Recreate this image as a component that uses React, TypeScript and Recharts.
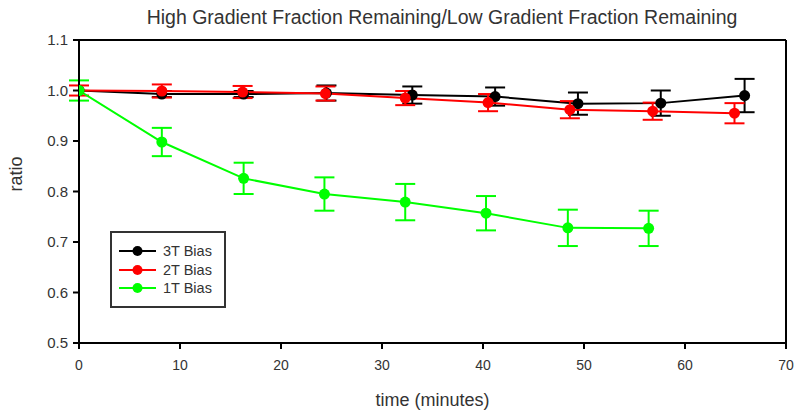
import React from 'react';
import {
  ComposedChart,
  Line,
  XAxis,
  YAxis,
  ErrorBar,
  ReferenceLine,
} from 'recharts';

// Sampling times (minutes) for each bias setting
const time3T = [0, 8.2, 16.3, 24.5, 33.0, 41.2, 49.4, 57.6, 65.9];
const time2T = [0, 8.2, 16.2, 24.4, 32.3, 40.5, 48.6, 56.8, 64.9];
const time1T = [0, 8.2, 16.3, 24.3, 32.3, 40.3, 48.4, 56.4];

// High/low gradient fraction remaining ratio
const ratio3T = [1.0, 0.993, 0.993, 0.995, 0.991, 0.988, 0.974, 0.975, 0.99];
const ratio2T = [1.0, 0.999, 0.997, 0.994, 0.985, 0.976, 0.962, 0.959, 0.955];
const ratio1T = [1.0, 0.898, 0.826, 0.795, 0.779, 0.757, 0.728, 0.727];

// Standard errors
const err3T = [0.0, 0.006, 0.006, 0.015, 0.017, 0.018, 0.022, 0.025, 0.033];
const err2T = [0.01, 0.013, 0.012, 0.014, 0.014, 0.017, 0.017, 0.017, 0.02];
const err1T = [0.02, 0.028, 0.031, 0.033, 0.036, 0.034, 0.036, 0.035];

const xTicks = [0, 10, 20, 30, 40, 50, 60, 70];
const yTicks = [0.5, 0.6, 0.7, 0.8, 0.9, 1.0, 1.1];

const seriesNames = ['3T Bias', '2T Bias', '1T Bias'];
const seriesColors = ['#000000', '#ff0000', '#00ff00'];

const build = (t: number[], r: number[], e: number[]) =>
  t.map((x, i) => ({ t: x, ratio: r[i], err: e[i] }));

const series = [
  build(time3T, ratio3T, err3T),
  build(time2T, ratio2T, err2T),
  build(time1T, ratio1T, err1T),
];

const FONT = 'Arial, "Liberation Sans", Helvetica, sans-serif';
const TEXT = '#333333';

const LegendBox = () => (
  <div
    style={{
      position: 'absolute',
      left: 110,
      top: 231,
      border: '2px solid #333',
      background: '#fff',
      width: 116,
      height: 77,
      boxSizing: 'border-box',
      paddingTop: 9,
      fontFamily: FONT,
      fontSize: 14.5,
      color: TEXT,
    }}
  >
    {seriesNames.map((name, i) => (
      <div key={name} style={{ display: 'flex', alignItems: 'center', height: 18.5 }}>
        <svg width={46} height={14} style={{ marginLeft: 5 }}>
          <line x1={2} y1={7} x2={39} y2={7} stroke={seriesColors[i]} strokeWidth={2} />
          <circle cx={20.5} cy={7} r={5} fill={seriesColors[i]} />
        </svg>
        <span>{name}</span>
      </div>
    ))}
  </div>
);

export default function App() {
  return (
    <div style={{ position: 'absolute', left: 0, top: 0, width: 802, height: 411, background: '#fff' }}>
      <div
        style={{
          position: 'absolute',
          left: 0,
          top: 6,
          width: 884,
          textAlign: 'center',
          fontFamily: FONT,
          fontSize: 19.5,
          color: TEXT,
          whiteSpace: 'nowrap',
        }}
      >
        High Gradient Fraction Remaining/Low Gradient Fraction Remaining
      </div>
      <ComposedChart
        width={802}
        height={411}
        margin={{ top: 40, right: 16, bottom: 0, left: 0 }}
        style={{ fontFamily: FONT }}
      >
        <XAxis
          type="number"
          dataKey="t"
          domain={[0, 70]}
          ticks={xTicks}
          allowDataOverflow
          height={68}
          stroke="#000"
          strokeWidth={2}
          tickSize={6}
          tickLine={{ stroke: '#000', strokeWidth: 2 }}
          tick={{ fill: TEXT, fontSize: 14, dy: 9 }}
          label={{ value: 'time (minutes)', position: 'insideBottom', offset: 5, fill: TEXT, fontSize: 18 }}
        />
        <YAxis
          type="number"
          domain={[0.5, 1.1]}
          ticks={yTicks}
          tickFormatter={(v: number) => v.toFixed(1)}
          width={79}
          stroke="#000"
          strokeWidth={2}
          tickSize={6}
          tickLine={{ stroke: '#000', strokeWidth: 2 }}
          tick={{ fill: TEXT, fontSize: 15, dx: -3 }}
          label={{ value: 'ratio', angle: -90, position: 'insideLeft', offset: 16, fill: TEXT, fontSize: 18 }}
        />
        <ReferenceLine y={1.1} stroke="#000" strokeWidth={2} />
        <ReferenceLine x={70} stroke="#000" strokeWidth={2} />
        {series.map((data, i) => (
          <Line
            key={seriesNames[i]}
            data={data}
            dataKey="ratio"
            name={seriesNames[i]}
            stroke={seriesColors[i]}
            strokeWidth={2}
            type="linear"
            dot={{ r: 5.5, fill: seriesColors[i], stroke: seriesColors[i], strokeWidth: 0 }}
            activeDot={false}
            isAnimationActive={false}
          >
            <ErrorBar dataKey="err" direction="y" width={10} stroke={seriesColors[i]} strokeWidth={2} />
          </Line>
        ))}
      </ComposedChart>
      <LegendBox />
    </div>
  );
}
